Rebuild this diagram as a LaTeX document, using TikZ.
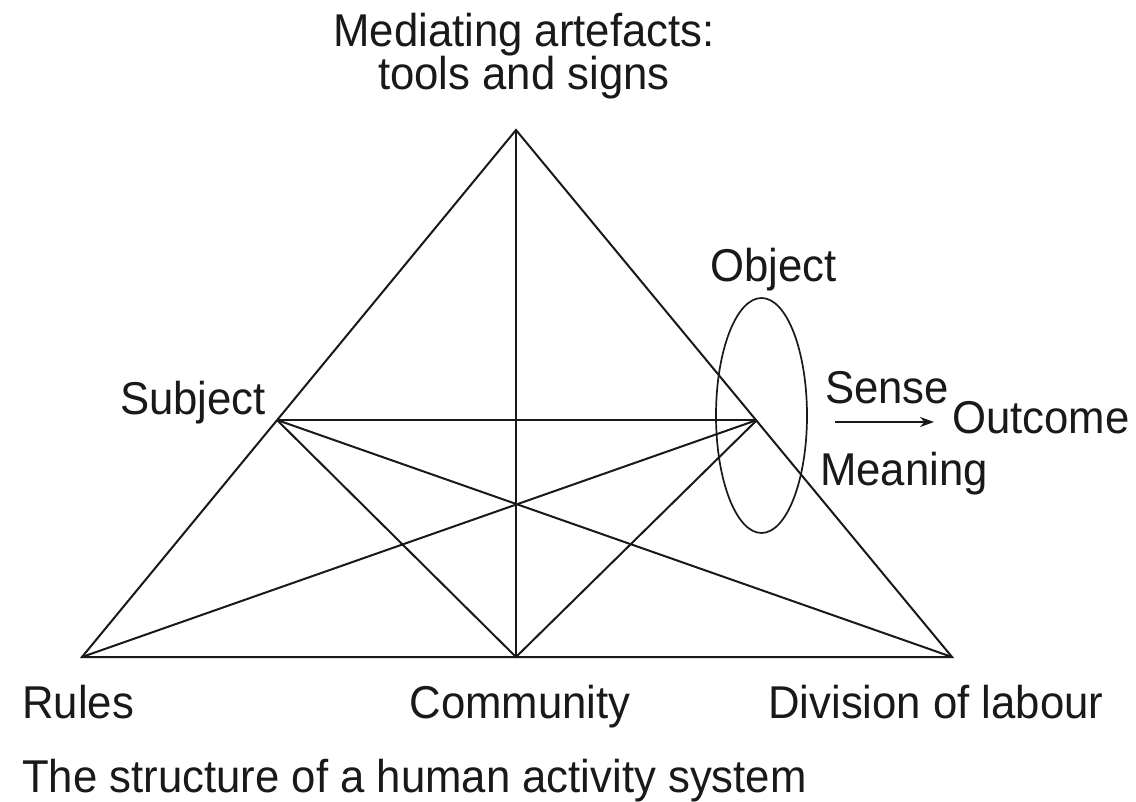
\documentclass[tikz,border=0pt]{standalone}
\usepackage{fontspec}
\setmainfont{Liberation Sans}[FakeStretch=0.95]
\usetikzlibrary{arrows.meta,shapes.geometric}
\begin{document}
\begin{tikzpicture}[x=1pt,y=-1pt,
  edge/.style={line width=2pt, black!90},
  lbl/.style={inner sep=0pt, text=black!90, font=\fontsize{46}{52}\selectfont},
  objring/.style={draw=black!90, line width=1.7pt, ellipse, inner sep=0pt, minimum width=91pt, minimum height=235pt},
  flow/.style={line width=2pt, black!90, -{Stealth[length=14pt,width=10pt]}}]
\useasboundingbox (0,0) rectangle (1136,802);
\fill[white] (0,0) rectangle (1136,802);
% vertices
\coordinate (A) at (516,130);
\coordinate (R) at (82,657);
\coordinate (D) at (952,657);
\coordinate (C) at (516,657);
\coordinate (S) at (277,420);
\coordinate (O) at (757,420);
% edges
\draw[edge] (R) -- (A) -- (D) -- cycle;
\draw[edge] (A) -- (C);
\draw[edge] (S) -- (O);
\draw[edge] (S) -- (C) -- (O);
\draw[edge] (S) -- (D);
\draw[edge] (R) -- (O);
% object ellipse
\node[objring] (ring) at (761.5,415.5) {};
% arrow
\coordinate (a1) at (835,422);
\coordinate (a2) at (934,422);
\draw[flow] (a1) -- (a2);
% labels
\node[lbl, anchor=base] (med) at (524,47) {Mediating artefacts:};
\node[lbl, anchor=base] (tools) at (524,90) {tools and signs};
\node[lbl, anchor=base west] (obj) at (710,282) {Object};
\node[lbl, anchor=base east] (subj) at (266,414) {Subject};
\node[lbl, anchor=base west] (sense) at (825,403) {Sense};
\node[lbl, anchor=base west] (outc) at (952,433) {Outcome};
\node[lbl, anchor=base west] (mean) at (820,485) {Meaning};
\node[lbl, anchor=base west] (rules) at (22,718) {Rules};
\node[lbl, anchor=base] (comm) at (520,718) {Community};
\node[lbl, anchor=base west] (div) at (768,718) {Division of labour};
\node[lbl, anchor=base west] (cap) at (22,792) {The structure of a human activity system};
\end{tikzpicture}
\end{document}
